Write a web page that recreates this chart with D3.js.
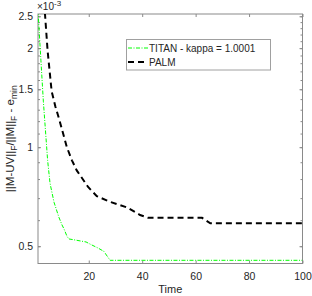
<!DOCTYPE html>
<html>
<head>
<meta charset="utf-8">
<script src="https://cdn.jsdelivr.net/npm/d3@7"></script>
<style>
  body { margin: 0; background: #fff; }
  text { font-family: "Liberation Sans", Arial, sans-serif; fill: #262626; }
</style>
</head>
<body>
<script>
var w = 312, h = 296;
var margin = { left: 38, top: 14, right: 9.5, bottom: 32.5 };

// values (y in units of 1e-3)
var titanTime = [1, 2.1, 3, 4.6, 5.5, 7, 8.8, 10, 10.7, 11.9, 12.6, 15, 19, 21, 23.4, 25.7, 26.6, 28, 40, 60, 80, 100];
var titanErr  = [2.6, 1.83, 1.38, 0.912, 0.777, 0.68, 0.613, 0.58, 0.565, 0.535, 0.526, 0.522, 0.515, 0.505, 0.494, 0.482, 0.47, 0.453, 0.453, 0.453, 0.453, 0.453];

var palmTime = [1, 3.6, 4.6, 6.1, 7.5, 9, 11.8, 13.7, 15.5, 19.75, 23, 28, 34.3, 39.2, 42.2, 62.4, 65.5, 80, 100];
var palmErr  = [4.8, 2.55, 1.96, 1.48, 1.33, 1.21, 1.0, 0.912, 0.85, 0.757, 0.71, 0.682, 0.656, 0.622, 0.61, 0.61, 0.587, 0.587, 0.587];

var xTicks = [20, 40, 60, 80, 100];
var yTicks = [0.5, 1, 1.5, 2, 2.5];
var yMinor = d3.range(5, 26).map(function(d) { return d / 10; });

var seriesNames = ['TITAN - kappa = 1.0001', 'PALM'];

var x = d3.scaleLinear().domain([1, 100]).range([margin.left, w - margin.right]);
var y = d3.scaleLog().domain([0.443, 2.54]).range([h - margin.bottom, margin.top]);

var svg = d3.select('body').append('svg')
	.attr('width', w)
	.attr('height', h);

svg.append('defs').append('clipPath').attr('id', 'clip')
	.append('rect')
	.attr('x', margin.left).attr('y', margin.top)
	.attr('width', w - margin.left - margin.right)
	.attr('height', h - margin.top - margin.bottom);

var x0 = margin.left, x1 = w - margin.right,
	y0 = h - margin.bottom, y1 = margin.top;

var axisColor = '#8a8a8a';

// box
svg.append('rect')
	.attr('x', x0).attr('y', y1)
	.attr('width', x1 - x0).attr('height', y0 - y1)
	.attr('fill', 'none').attr('stroke', axisColor).attr('stroke-width', 1);

// x axis bottom + top ticks
var gBottom = svg.append('g').attr('transform', 'translate(0,' + y0 + ')')
	.call(d3.axisBottom(x).tickValues(xTicks).tickSize(-3).tickPadding(9));
var gTop = svg.append('g').attr('transform', 'translate(0,' + y1 + ')')
	.call(d3.axisTop(x).tickValues(xTicks).tickSize(-3).tickFormat(''));

// y axis left + right, major then minor
var gLeft = svg.append('g').attr('transform', 'translate(' + x0 + ',0)')
	.call(d3.axisLeft(y).tickValues(yTicks).tickSize(-3).tickPadding(5).tickFormat(d3.format('')));
var gRight = svg.append('g').attr('transform', 'translate(' + x1 + ',0)')
	.call(d3.axisRight(y).tickValues(yTicks).tickSize(-3).tickFormat(''));
var gLeftMinor = svg.append('g').attr('transform', 'translate(' + x0 + ',0)')
	.call(d3.axisLeft(y).tickValues(yMinor).tickSize(-2).tickFormat(''));
var gRightMinor = svg.append('g').attr('transform', 'translate(' + x1 + ',0)')
	.call(d3.axisRight(y).tickValues(yMinor).tickSize(-2).tickFormat(''));

[gBottom, gTop, gLeft, gRight, gLeftMinor, gRightMinor].forEach(function(g) {
	g.select('.domain').remove();
	g.selectAll('line').attr('stroke', axisColor);
	g.attr('font-family', '"Liberation Sans", Arial, sans-serif').attr('font-size', 10.5);
	g.selectAll('text').attr('fill', '#333');
});

// exponent label
var expo = svg.append('text').attr('x', x0 - 1).attr('y', 10).attr('font-size', 10);
expo.append('tspan').text('\u00d710');
expo.append('tspan').attr('dy', -4).attr('font-size', 8).text('-3');

// axis labels
svg.append('text')
	.attr('x', (x0 + x1) / 2).attr('y', 293)
	.attr('text-anchor', 'middle').attr('font-size', 11)
	.text('Time');

var yl = svg.append('text')
	.attr('transform', 'translate(14,' + ((y0 + y1) / 2) + ')rotate(-90)')
	.attr('text-anchor', 'middle').attr('font-size', 11.5);
yl.append('tspan').text('||M-UV||');
yl.append('tspan').attr('dy', 3).attr('font-size', 8.5).text('F');
yl.append('tspan').attr('dy', -3).text('/||M||');
yl.append('tspan').attr('dy', 3).attr('font-size', 8.5).text('F');
yl.append('tspan').attr('dy', -3).text(' - e');
yl.append('tspan').attr('dy', 3).attr('font-size', 8.5).text('min');

// lines
var line = d3.line()
	.x(function(d) { return x(d[0]); })
	.y(function(d) { return y(d[1]); });

var plot = svg.append('g').attr('clip-path', 'url(#clip)');

plot.append('path')
	.datum(d3.zip(palmTime, palmErr))
	.attr('d', line)
	.attr('fill', 'none')
	.attr('stroke', '#000')
	.attr('stroke-width', 2)
	.attr('stroke-dasharray', '6,4');

plot.append('path')
	.datum(d3.zip(titanTime, titanErr))
	.attr('d', line)
	.attr('fill', 'none')
	.attr('stroke', '#00ff00')
	.attr('stroke-width', 1)
	.attr('stroke-dasharray', '4,1.5,1,1.5');

// legend
var lg = svg.append('g');
lg.append('rect')
	.attr('x', 126.5).attr('y', 39.5)
	.attr('width', 144).attr('height', 30.5)
	.attr('fill', '#fff').attr('stroke', '#a0a0a0').attr('stroke-width', 1);

var styles = [
	{ stroke: '#00ff00', width: 1, dash: '4,1.5,1,1.5' },
	{ stroke: '#000', width: 2, dash: '6,4' }
];
seriesNames.forEach(function(name, i) {
	var ly = 48 + i * 14;
	lg.append('line')
		.attr('x1', 128).attr('x2', 148).attr('y1', ly).attr('y2', ly)
		.attr('stroke', styles[i].stroke)
		.attr('stroke-width', styles[i].width)
		.attr('stroke-dasharray', styles[i].dash);
	lg.append('text')
		.attr('x', 149).attr('y', ly + 3.5)
		.attr('font-size', 10)
		.text(name);
});
</script>
</body>
</html>
